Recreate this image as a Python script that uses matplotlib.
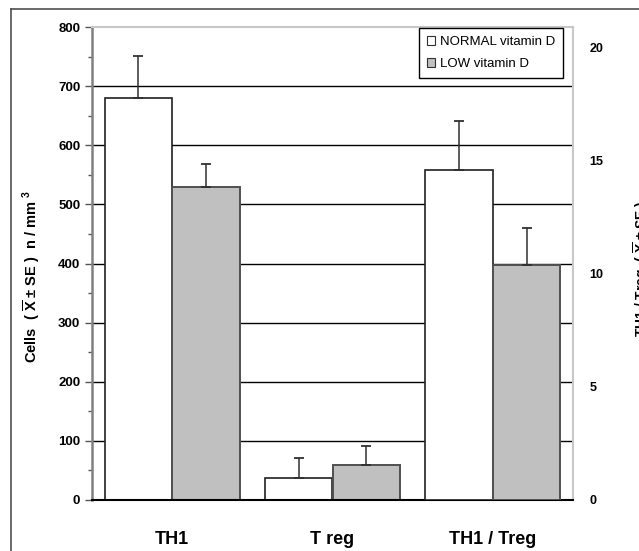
import numpy as np
import matplotlib
matplotlib.use("Agg")
import matplotlib.pyplot as plt
from matplotlib.patches import Patch
from matplotlib.lines import Line2D

plt.rcParams['font.family'] = ['Liberation Sans', 'DejaVu Sans']
plt.rcParams['mathtext.fontset'] = 'custom'
plt.rcParams['mathtext.rm'] = 'Liberation Sans'
plt.rcParams['mathtext.bf'] = 'Liberation Sans:bold'

# data
groups = ['TH1', 'T reg', 'TH1 / Treg']
series = ['NORMAL vitamin D', 'LOW vitamin D']
# cells (left axis): TH1, T reg
cells_normal = [680, 38]
cells_normal_se = [71, 33]
cells_low = [530, 60]
cells_low_se = [39, 31]
# ratio TH1 / Treg (right axis)
ratio_normal = [14.6]
ratio_normal_se = [2.15]
ratio_low = [10.4]
ratio_low_se = [1.6]

W, H = 639, 551
fig = plt.figure(figsize=(W / 100, H / 100), dpi=100)
ax = fig.add_axes([92 / W, 51 / H, 481 / W, 473 / H])

x = np.arange(len(groups))
bw = 0.42
fill = ['white', '#c0c0c0']
edge = ['#202020', '#505050']

# horizontal rules behind the bars
ax.hlines(np.arange(100, 800, 100), -0.5, 2.5, color='black', lw=1, zorder=0)

ek = dict(ecolor='#303030', elinewidth=1.1, capsize=3.6, capthick=1.3)
ax.bar(x[:2] - bw / 2, cells_normal, bw, color=fill[0], edgecolor=edge[0], lw=1.2, zorder=2,
       yerr=[np.zeros(2), cells_normal_se], error_kw=ek)
ax.bar(x[:2] + bw / 2, cells_low, bw, color=fill[1], edgecolor=edge[1], lw=1.4, zorder=2,
       yerr=[np.zeros(2), cells_low_se], error_kw=ek)

ax.set_xlim(-0.5, 2.5)
ax.set_ylim(0, 800)
ax.set_yticks(np.arange(0, 801, 100))
ax.set_yticks(np.arange(50, 800, 100), minor=True)
ax.tick_params(axis='y', which='major', length=5, width=1, color='#555555', pad=3.5,
               labelsize=9.5)
ax.tick_params(axis='y', which='minor', length=3, width=1, color='#555555')
for t in ax.get_yticklabels():
    t.set_fontweight('bold')
ax.set_xticks(x)
ax.set_xticklabels(groups, fontsize=13, fontweight='bold')
ax.tick_params(axis='x', length=0, pad=22)

ax.spines['left'].set_color('#808080')
ax.spines['left'].set_linewidth(1.8)
ax.spines['bottom'].set_color('black')
ax.spines['bottom'].set_linewidth(1.5)
for s in ['top', 'right']:
    ax.spines[s].set_color('#c8c8c8')
    ax.spines[s].set_linewidth(1.5)

ax2 = ax.twinx()
ax2.bar(x[2:] - bw / 2, ratio_normal, bw, color=fill[0], edgecolor=edge[0], lw=1.2, zorder=2,
        yerr=[[0], ratio_normal_se], error_kw=ek)
ax2.bar(x[2:] + bw / 2, ratio_low, bw, color=fill[1], edgecolor=edge[1], lw=1.4, zorder=2,
        yerr=[[0], ratio_low_se], error_kw=ek)
ax2.set_ylim(0, 20.9)
ax2.set_yticks([0, 5, 10, 15, 20])
ax2.tick_params(axis='y', length=0, pad=12, labelsize=9)
for t in ax2.get_yticklabels():
    t.set_fontweight('bold')
for s in ['top', 'right', 'left', 'bottom']:
    ax2.spines[s].set_visible(False)

fig.text(31 / W, 1 - 277 / H,
         r'Cells  ( $\overline{\mathbf{X}}$ ± SE )  n / mm$^{\ \mathbf{3}}$',
         rotation=90, ha='center', va='center', fontsize=10.5, fontweight='bold')
fig.text(632 / W, 1 - 269 / H,
         r'TH1 / Treg  ( $\overline{\mathbf{X}}$ ± SE )',
         rotation=90, ha='left', va='center', fontsize=10, fontweight='bold')

handles = [Patch(facecolor=fill[0], edgecolor='#303030', lw=0.8),
           Patch(facecolor=fill[1], edgecolor='#303030', lw=0.8)]
leg = fig.legend(handles, series, loc='upper left', bbox_to_anchor=(419 / W, 1 - 28 / H),
                 frameon=True, fancybox=False, edgecolor='black', framealpha=1,
                 borderaxespad=0, handlelength=0.65, handleheight=0.65, handletextpad=0.35,
                 labelspacing=0.75, borderpad=0.6, fontsize=9.5)
leg.get_frame().set_linewidth(1)
leg._legend_box.align = 'left'

# outer frame
fig.add_artist(Line2D([11 / W, 11 / W], [0, 1 - 9 / H], transform=fig.transFigure,
                      color='#505050', lw=1.2))
fig.add_artist(Line2D([11 / W, 1], [1 - 9 / H, 1 - 9 / H], transform=fig.transFigure,
                      color='#505050', lw=1.2))

fig.savefig('out.png', dpi=100)
